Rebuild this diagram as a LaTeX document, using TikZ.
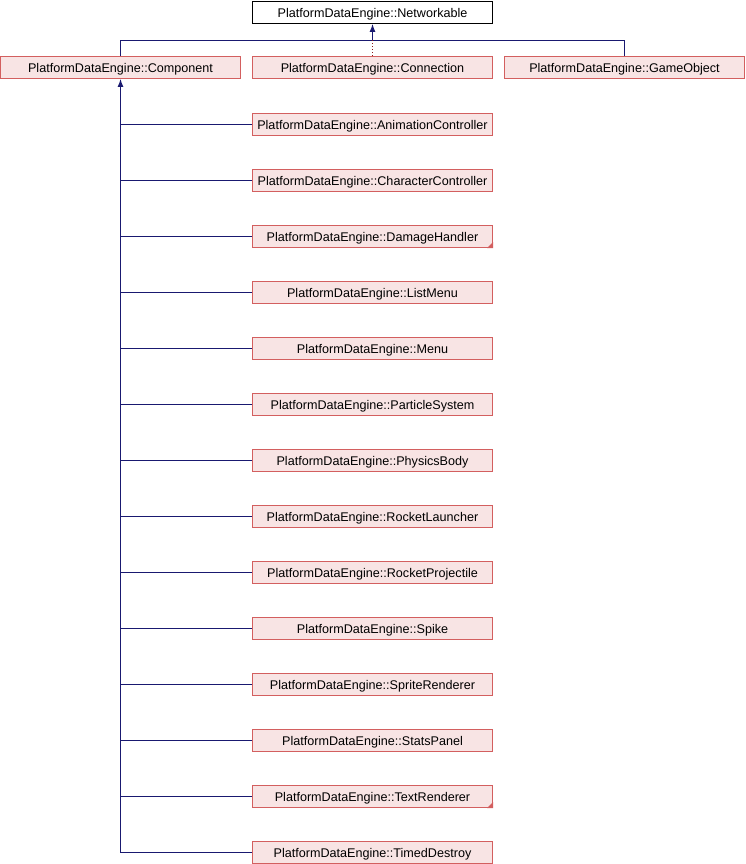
\documentclass[tikz,border=0pt]{standalone}
\usepackage{fontspec}
\setmainfont{Liberation Sans}
\usetikzlibrary{arrows.meta}
\definecolor{nodefill}{HTML}{F8E4E4}
\definecolor{nodedraw}{HTML}{D35F5F}
\definecolor{edgeblue}{HTML}{191970}
\definecolor{edgered}{HTML}{8B1A1A}
\tikzset{
  cls/.style={draw=nodedraw, fill=nodefill, line width=1pt, minimum width=240pt, minimum height=22pt, inner sep=0pt, text height=9.1pt, text depth=0pt, font=\fontsize{12.6}{14}\selectfont, text=black},
  base/.style={draw=black, fill=white, line width=1pt, minimum width=240pt, minimum height=22pt, inner sep=0pt, text height=9.1pt, text depth=0pt, font=\fontsize{12.6}{14}\selectfont, text=black},
  edge/.style={draw=edgeblue, line width=1pt},
  usage/.style={draw=edgered, line width=1pt, dotted},
  tip/.style={-{Latex[length=8pt,width=6pt]}},
  trunc/.style={fill=nodedraw, draw=none}
}
\begin{document}
\begin{tikzpicture}[x=1pt,y=-1pt]
\useasboundingbox[fill=white] (0,0) rectangle (746,864);
\node[base] (net) at (372.5,12.5) {PlatformDataEngine::Networkable};
\node[cls] (comp) at (120.5,67.5) {PlatformDataEngine::Component};
\node[cls] (conn) at (372.5,67.5) {PlatformDataEngine::Connection};
\node[cls] (go) at (624.5,67.5) {PlatformDataEngine::GameObject};
\node[cls] (c1) at (372.5,124.5) {PlatformDataEngine::AnimationController};
\node[cls] (c2) at (372.5,180.5) {PlatformDataEngine::CharacterController};
\node[cls] (c3) at (372.5,236.5) {PlatformDataEngine::DamageHandler};
\node[cls] (c4) at (372.5,292.5) {PlatformDataEngine::ListMenu};
\node[cls] (c5) at (372.5,348.5) {PlatformDataEngine::Menu};
\node[cls] (c6) at (372.5,404.5) {PlatformDataEngine::ParticleSystem};
\node[cls] (c7) at (372.5,460.5) {PlatformDataEngine::PhysicsBody};
\node[cls] (c8) at (372.5,516.5) {PlatformDataEngine::RocketLauncher};
\node[cls] (c9) at (372.5,572.5) {PlatformDataEngine::RocketProjectile};
\node[cls] (c10) at (372.5,628.5) {PlatformDataEngine::Spike};
\node[cls] (c11) at (372.5,684.5) {PlatformDataEngine::SpriteRenderer};
\node[cls] (c12) at (372.5,740.5) {PlatformDataEngine::StatsPanel};
\node[cls] (c13) at (372.5,796.5) {PlatformDataEngine::TextRenderer};
\node[cls] (c14) at (372.5,852.5) {PlatformDataEngine::TimedDestroy};
% truncation marks
\fill[trunc] (c3.south east) -- ++(-6,0) -- ++(6,-6) -- cycle;
\fill[trunc] (c13.south east) -- ++(-6,0) -- ++(6,-6) -- cycle;
% top connectors
\coordinate (bus) at (372.5,40.5);
\draw[edge] (comp.north) |- (bus) -| (go.north);
\draw[edge,tip] (bus) -- (net.south);
\draw[usage] (conn.north) -- (bus);
% component trunk
\draw[edge,tip] (c14.west) -| (comp.south);
\foreach \i in {1,...,13}{
  \draw[edge] (c\i.west) -- (c\i.west -| comp.south);
}
\end{tikzpicture}
\end{document}
